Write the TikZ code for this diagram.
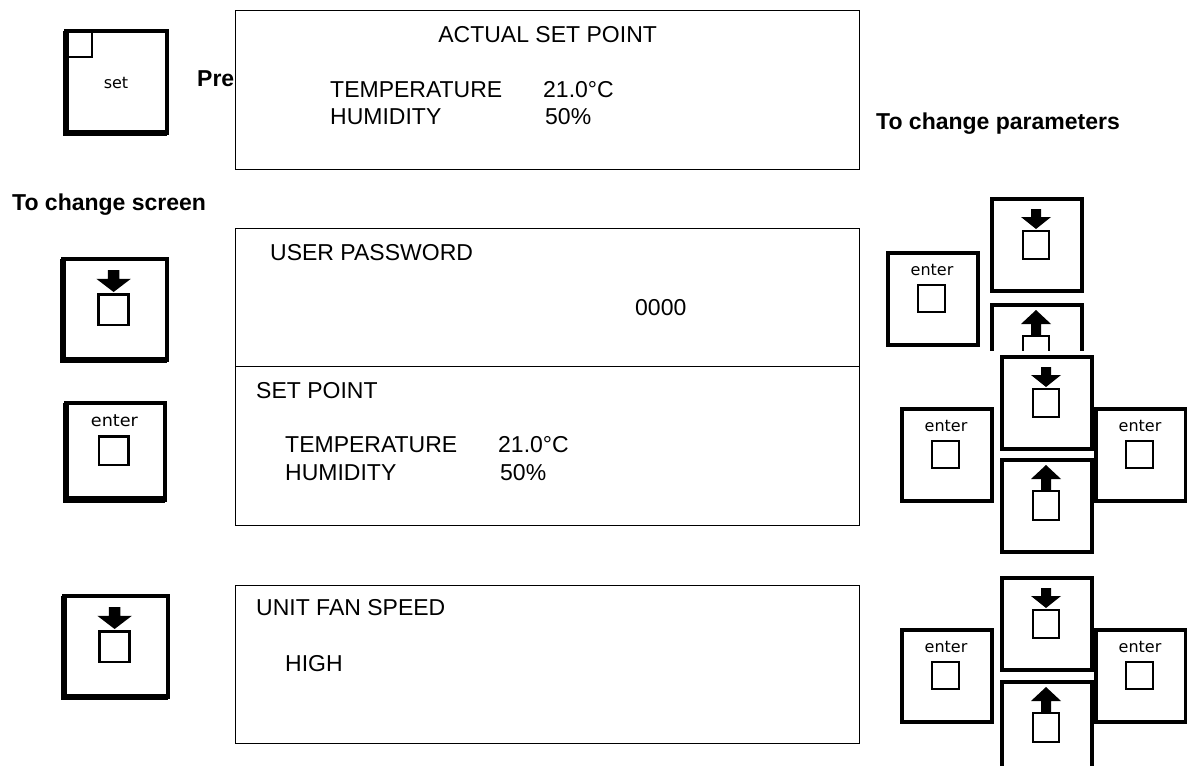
\documentclass[tikz,border=0pt]{standalone}
\usepackage{fontspec}
\setmainfont{Liberation Sans}
\newfontfamily\keyfont{DejaVu Sans}
\usetikzlibrary{positioning,calc}

\tikzset{
  pics/setkey/.style={code={
    \draw[keyframe] (0,0) rectangle (101,102);
    \draw[keyedge] (0,0) -- (0,102) -- (101,102);
    \draw[keypad] (0,0) rectangle (26,26);
    \node[keylabel] at (50,52) {set};
  }},
  pics/downkey/.style={code={
    \draw[keyframe] (0,0) rectangle (90,92);
    \draw[keyedge] (0,0) -- (0,92) -- (90,92);
    \fill (39,10) -- (49,10) -- (49,18) -- (59,18) -- (44,30) -- (29,18) -- (39,18) -- cycle;
    \draw[keypad] (31,32) rectangle (57,60);
  }},
  pics/upkey/.style={code={
    \draw[keyframe] (0,0) rectangle (90,92);
    \draw[keyedge] (0,0) -- (0,92) -- (90,92);
    \fill (44,5) -- (59,19) -- (49,19) -- (49,31) -- (39,31) -- (39,19) -- (29,19) -- cycle;
    \draw[keypad] (31,31) rectangle (57,60);
  }},
  pics/enterkey/.style={code={
    \draw[keyframe] (0,0) rectangle (90,92);
    \draw[keyedge] (0,0) -- (0,92) -- (90,92);
    \node[keylabel] at (44,17) {enter};
    \draw[keypad] (30,32) rectangle (57,59);
  }},
}

\begin{document}
\begin{tikzpicture}[
  x=1pt, y=-1pt,
  keyframe/.style={draw, line width=4pt, fill=white},
  keyedge/.style={line width=4pt},
  shadow/.style={keyedge/.style={line width=6.5pt}},
  keypad/.style={draw, line width=2.6pt},
  keylabel/.style={font=\keyfont\fontsize{16}{16}\selectfont, inner sep=0},
  screen/.style={draw, line width=1.3pt, fill=white, anchor=north west,
    minimum width=624pt, inner sep=0},
  lcd/.style={font=\fontsize{23}{26}\selectfont, inner sep=0, anchor=west},
  hint/.style={font=\bfseries\fontsize{23}{26}\selectfont, inner sep=0, anchor=west}
]
  \useasboundingbox (0,0) rectangle (1187,766);
  \clip (0,0) rectangle (1187,766);

  % left column
  \pic[shadow] at (66,31) {setkey};
  \node[hint] (press) at (197,79) {Pre};
  \node[hint] (screenhint) at (12,205) {To change screen};
  \pic[shadow, xscale=1.15, yscale=1.1] at (63,259) {downkey};
  \pic[shadow, xscale=1.1, yscale=1.05, transform shape] at (66,403) {enterkey};
  \pic[shadow, xscale=1.15, yscale=1.1] at (64,596) {downkey};

  % screens
  \node[screen, minimum height=159pt] (actual) at (235,10) {};
  \node[lcd, anchor=center] (actualhead) at ($(actual.north)+(0,25)$) {ACTUAL SET POINT};
  \node[lcd] (atemp) at (330,90) {TEMPERATURE};
  \node[lcd] (atempv) at (543,90) {21.0°C};
  \node[lcd] (ahum) at (330,117) {HUMIDITY};
  \node[lcd] (ahumv) at (545,117) {50\%};

  \node[screen, minimum height=138pt] (passwd) at (235,228) {};
  \node[lcd] (passhead) at (270,253) {USER PASSWORD};
  \node[lcd] (passval) at (635,308) {0000};

  \node[screen, minimum height=159pt] (setpt) at (235,366) {};
  \node[lcd] (sethead) at (256,391) {SET POINT};
  \node[lcd] (stemp) at (285,445) {TEMPERATURE};
  \node[lcd] (stempv) at (498,445) {21.0°C};
  \node[lcd] (shum) at (285,473) {HUMIDITY};
  \node[lcd] (shumv) at (500,473) {50\%};

  \node[screen, minimum height=158pt] (fanspd) at (235,585) {};
  \node[lcd] (fanhead) at (256,608) {UNIT FAN SPEED};
  \node[lcd] (fanval) at (285,664) {HIGH};

  % right column
  \node[hint] (paramhint) at (876,124) {To change parameters};

  \pic at (888,253) {enterkey};
  \pic at (992,199) {downkey};
  \begin{scope}
    \clip (980,300) rectangle (1100,350);
    \pic at (992,305) {upkey};
  \end{scope}

  \pic at (1002,357) {downkey};
  \pic at (1002,460) {upkey};
  \pic at (902,409) {enterkey};
  \pic at (1096,409) {enterkey};

  \pic at (1002,578) {downkey};
  \pic at (1002,682) {upkey};
  \pic at (902,630) {enterkey};
  \pic at (1096,630) {enterkey};
\end{tikzpicture}
\end{document}
